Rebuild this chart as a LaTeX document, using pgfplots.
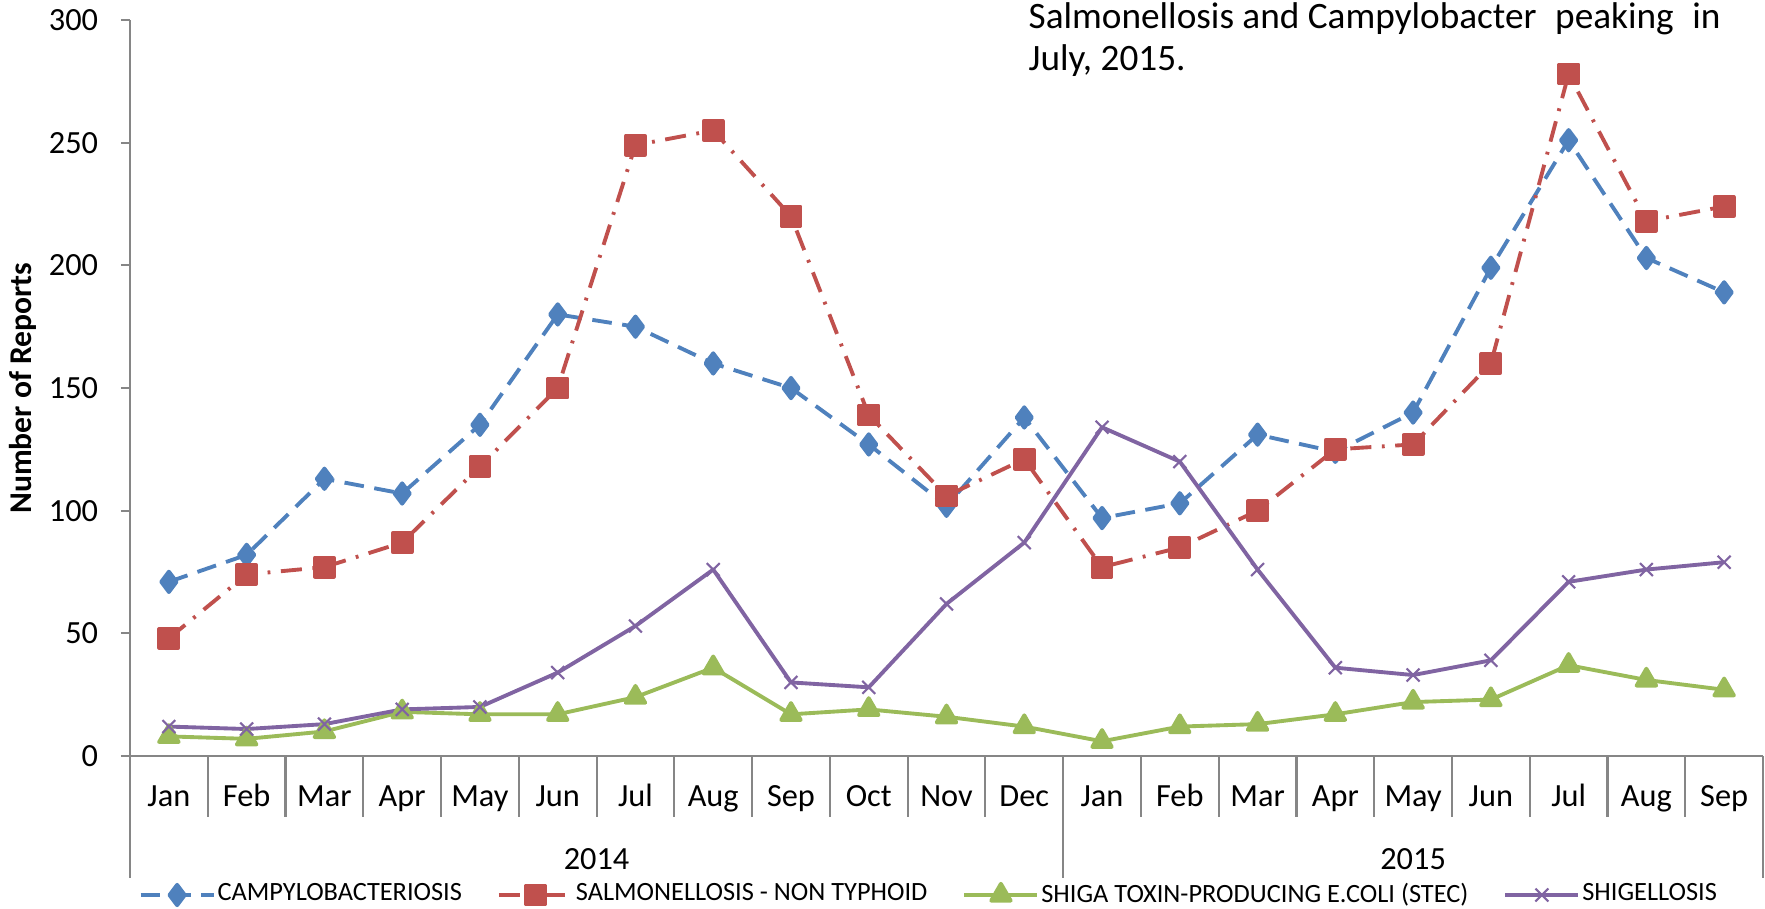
\documentclass[border=0pt]{standalone}
\usepackage{pgfplots}
\pgfplotsset{compat=1.18}
\usepackage{fontspec}
\setmainfont{Carlito}
\definecolor{cblue}{HTML}{4F81BD}
\definecolor{cred}{HTML}{C0504D}
\definecolor{cgreen}{HTML}{9BBB59}
\definecolor{cpurple}{HTML}{8064A2}
\definecolor{axisgray}{HTML}{868686}
\begin{document}
\begin{tikzpicture}
\begin{axis}[
  at={(0,0)}, anchor=south west,
  scale only axis, width=163.3mm, height=73.6mm,
  xmin=-0.5, xmax=20.5, ymin=0, ymax=300,
  axis x line=bottom, axis y line=left,
  axis line style={-, draw=axisgray, line width=0.6pt},
  xtick={0,...,20},
  xticklabels={Jan,Feb,Mar,Apr,May,Jun,Jul,Aug,Sep,Oct,Nov,Dec,Jan,Feb,Mar,Apr,May,Jun,Jul,Aug,Sep},
  x tick style={draw=none},
  ytick={0,50,...,300},
  y tick style={draw=axisgray, line width=0.6pt},
  tick align=outside,
  major tick length=0.9mm,
  xticklabel style={anchor=base, yshift=-4.1mm},
  yticklabel style={xshift=-1.05mm},
  tick label style={font=\fontsize{9.2}{10}\selectfont},
  /pgf/number format/assume math mode=true,
  ylabel={Number of Reports},
  every axis y label/.style={at={([xshift=-10.75mm]axis description cs:0,0.5)}, rotate=90, anchor=center, font=\bfseries\fontsize{9}{10}\selectfont},
  clip=false,
  legend columns=4,
  legend cell align=left,
  legend style={at={([xshift=0.8mm,yshift=-13.9mm]axis description cs:0,0)}, anchor=west, draw=none, fill=none, inner sep=0pt,
    font=\fontsize{7.5}{9}\selectfont, /tikz/every even column/.append style={column sep=2.8mm},
    /tikz/every odd column/.append style={column sep=-0.5mm}},
  legend image code/.code={\draw[mark repeat=2,mark phase=2,#1] plot coordinates {(0mm,0mm) (3.65mm,0mm) (7.3mm,0mm)};},
  every axis plot/.append style={line width=1.1pt, line join=round},
]
\pgfplotsinvokeforeach{0,...,21}{\draw[axisgray, line width=0.6pt] (axis cs:#1-0.5,0) -- (axis cs:#1-0.5,-24.9);}
\draw[axisgray, line width=0.6pt] (axis cs:-0.5,0) -- (axis cs:-0.5,-49.7);
\draw[axisgray, line width=0.6pt] (axis cs:11.5,0) -- (axis cs:11.5,-49.7);
\draw[axisgray, line width=0.6pt] (axis cs:20.5,0) -- (axis cs:20.5,-49.7);
\node[anchor=base, font=\fontsize{9.2}{10}\selectfont] at ([yshift=-11.3mm]axis cs:5.5,0) {2014};
\node[anchor=base, font=\fontsize{9.2}{10}\selectfont] at ([yshift=-11.3mm]axis cs:16,0) {2015};

\addplot[cblue, dash pattern=on 5.6pt off 3pt, mark=diamond*, mark size=2.9pt, mark options={solid}] coordinates {
(0,71)(1,82)(2,113)(3,107)(4,135)(5,180)(6,175)(7,160)(8,150)(9,127)(10,102)(11,138)
(12,97)(13,103)(14,131)(15,124)(16,140)(17,199)(18,251)(19,203)(20,189)};
\addlegendentry{CAMPYLOBACTERIOSIS}
\addplot[cred, dash pattern=on 6pt off 3pt on 0.8pt off 3pt, mark=square*, mark size=2.7pt, mark options={solid}] coordinates {
(0,48)(1,74)(2,77)(3,87)(4,118)(5,150)(6,249)(7,255)(8,220)(9,139)(10,106)(11,121)
(12,77)(13,85)(14,100)(15,125)(16,127)(17,160)(18,278)(19,218)(20,224)};
\addlegendentry{SALMONELLOSIS - NON TYPHOID}
\addplot[cgreen, solid, mark=triangle*, mark size=3.2pt] coordinates {
(0,8)(1,7)(2,10)(3,18)(4,17)(5,17)(6,24)(7,36)(8,17)(9,19)(10,16)(11,12)
(12,6)(13,12)(14,13)(15,17)(16,22)(17,23)(18,37)(19,31)(20,27)};
\addlegendentry{SHIGA TOXIN-PRODUCING E.COLI (STEC)}
\addplot[cpurple, solid, mark=x, mark size=2.6pt, mark options={line width=0.6pt}] coordinates {
(0,12)(1,11)(2,13)(3,19)(4,20)(5,34)(6,53)(7,76)(8,30)(9,28)(10,62)(11,87)
(12,134)(13,120)(14,76)(15,36)(16,33)(17,39)(18,71)(19,76)(20,79)};
\addlegendentry{SHIGELLOSIS}
\end{axis}
\node[anchor=base west, inner sep=0pt, font=\fontsize{10.6}{13}\selectfont] at (89.8mm,72.8mm) {\hbox to 69.2mm{Salmonellosis and Campylobacter\hfil\ peaking\hfil\ in}};
\node[anchor=base west, inner sep=0pt, font=\fontsize{10.6}{13}\selectfont] at (89.8mm,68.6mm) {July, 2015.};
\pgfresetboundingbox
\path[use as bounding box] (-13mm,-15.2mm) rectangle (163.5mm,75.6mm);
\end{tikzpicture}
\end{document}
